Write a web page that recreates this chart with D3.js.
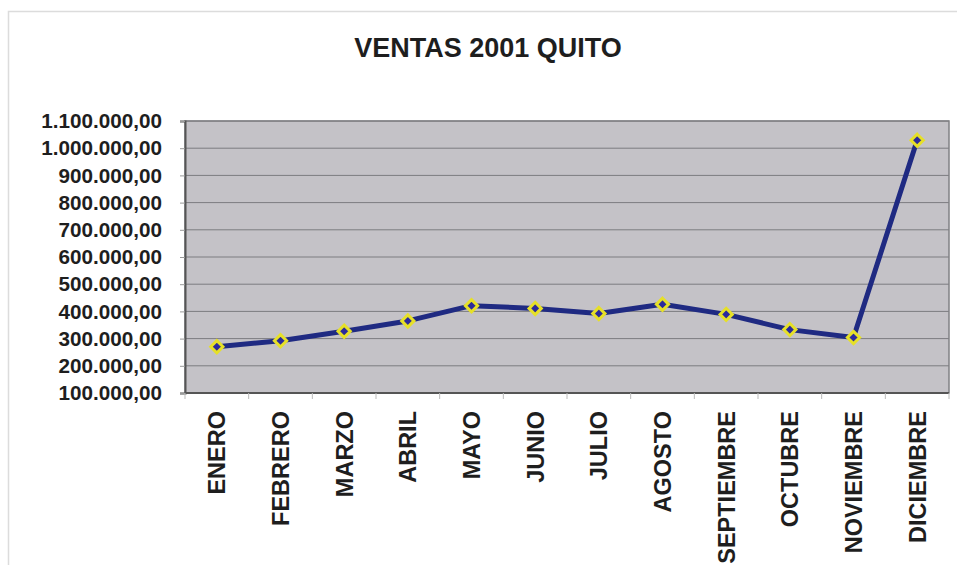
<!DOCTYPE html>
<html>
<head>
<meta charset="utf-8">
<script src="https://cdn.jsdelivr.net/npm/d3@7/dist/d3.min.js"></script>
<style>
  body { margin: 0; background: #fff; }
  text { font-family: "Liberation Sans", Arial, sans-serif; font-weight: bold; fill: #1e1e1e; }
</style>
</head>
<body>
<div id="vis"></div>
<script>
var months = ['ENERO', 'FEBRERO', 'MARZO', 'ABRIL', 'MAYO', 'JUNIO', 'JULIO',
  'AGOSTO', 'SEPTIEMBRE', 'OCTUBRE', 'NOVIEMBRE', 'DICIEMBRE'];
var sales = [270000, 292000, 327000, 365000, 421000, 411000, 392000,
  426000, 389000, 333000, 304000, 1029000];
var yTicks = [100000, 200000, 300000, 400000, 500000, 600000, 700000,
  800000, 900000, 1000000, 1100000];

var width = 957;
var height = 565;
var plot = { left: 185, right: 949, top: 121, bottom: 393 };

var svg = d3.select('#vis')
  .append('svg')
  .attr('width', width)
  .attr('height', height);

// chart frame (only top and left visible in the scan)
svg.append('path')
  .attr('d', 'M8.5,' + height + 'V11.5H' + width)
  .attr('fill', 'none')
  .attr('stroke', '#dcdcdc')
  .attr('stroke-width', 1.5);

svg.append('text')
  .attr('x', 488)
  .attr('y', 57)
  .attr('text-anchor', 'middle')
  .style('font-size', '27px')
  .text('VENTAS 2001 QUITO');

var x = d3.scaleBand()
  .domain(months)
  .range([plot.left, plot.right]);

var y = d3.scaleLinear()
  .domain([100000, 1100000])
  .range([plot.bottom, plot.top]);

function fmt(v) {
  return d3.format(',.2f')(v).replace(/,/g, '#').replace('.', ',').replace(/#/g, '.');
}

svg.append('rect')
  .attr('x', plot.left)
  .attr('y', plot.top)
  .attr('width', plot.right - plot.left)
  .attr('height', plot.bottom - plot.top)
  .attr('fill', '#c4c2c7');

// horizontal grid
svg.append('g')
  .selectAll('line')
  .data(yTicks)
  .enter()
  .append('line')
  .attr('x1', plot.left)
  .attr('x2', plot.right)
  .attr('y1', function (d) { return y(d); })
  .attr('y2', function (d) { return y(d); })
  .attr('stroke', '#7c7c80')
  .attr('stroke-width', 1);

svg.append('rect')
  .attr('x', plot.left)
  .attr('y', plot.top)
  .attr('width', plot.right - plot.left)
  .attr('height', plot.bottom - plot.top)
  .attr('fill', 'none')
  .attr('stroke', '#808084')
  .attr('stroke-width', 1.5);

var yAxis = svg.append('g')
  .attr('transform', 'translate(' + plot.left + ',0)')
  .call(d3.axisLeft(y).tickValues(yTicks).tickFormat(fmt).tickSize(5).tickPadding(18));
yAxis.select('.domain').attr('stroke', '#555').attr('stroke-width', 2);
yAxis.selectAll('.tick line').attr('stroke', '#999');
yAxis.selectAll('.tick text')
  .style('font-size', '20.7px')
  .style('font-family', '"Liberation Sans", Arial, sans-serif')
  .attr('fill', '#1e1e1e');

// x axis: ticks between categories
var xAxis = svg.append('g')
  .attr('transform', 'translate(0,' + plot.bottom + ')');
xAxis.append('line')
  .attr('x1', plot.left)
  .attr('x2', plot.right)
  .attr('stroke', '#555')
  .attr('stroke-width', 2);
xAxis.selectAll('.xtick')
  .data(months)
  .enter()
  .append('line')
  .attr('class', 'xtick')
  .attr('x1', function (d) { return x(d); })
  .attr('x2', function (d) { return x(d); })
  .attr('y1', 0)
  .attr('y2', 6)
  .attr('stroke', '#bbb');
xAxis.append('line')
  .attr('x1', plot.right)
  .attr('x2', plot.right)
  .attr('y1', 0)
  .attr('y2', 6)
  .attr('stroke', '#bbb');

xAxis.selectAll('.xlabel')
  .data(months)
  .enter()
  .append('text')
  .attr('class', 'xlabel')
  .attr('transform', function (d) {
    return 'translate(' + (x(d) + x.bandwidth() / 2) + ',' + 18 + ') rotate(-90)';
  })
  .attr('dy', '0.36em')
  .attr('text-anchor', 'end')
  .style('font-size', '23.5px')
  .text(function (d) { return d; });

var points = months.map(function (m, i) {
  return { month: m, value: sales[i] };
});

var line = d3.line()
  .x(function (d) { return x(d.month) + x.bandwidth() / 2; })
  .y(function (d) { return y(d.value); });

svg.append('path')
  .datum(points)
  .attr('d', line)
  .attr('fill', 'none')
  .attr('stroke', '#1f2a82')
  .attr('stroke-width', 5)
  .attr('stroke-linejoin', 'round');

svg.selectAll('.marker')
  .data(points)
  .enter()
  .append('path')
  .attr('class', 'marker')
  .attr('d', d3.symbol().type(d3.symbolDiamond2).size(95))
  .attr('transform', function (d) {
    return 'translate(' + (x(d.month) + x.bandwidth() / 2) + ',' + y(d.value) + ')';
  })
  .attr('fill', '#2b2a9c')
  .attr('stroke', '#e6e028')
  .attr('stroke-width', 3);
</script>
</body>
</html>
